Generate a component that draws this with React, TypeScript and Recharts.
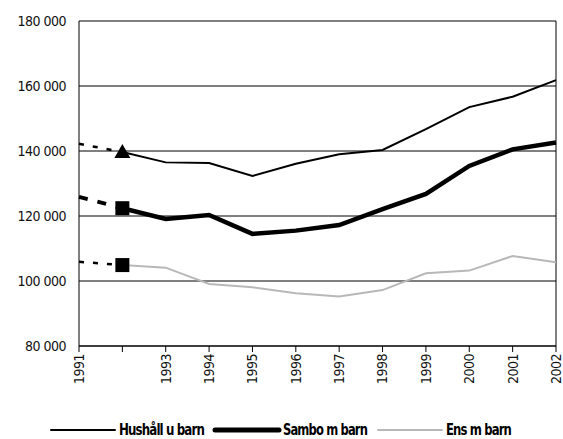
import { LineChart, Line, XAxis, YAxis, CartesianGrid, ReferenceLine, Legend } from "recharts";

const years = ["1991", "1992", "1993", "1994", "1995", "1996", "1997", "1998", "1999", "2000", "2001", "2002"];
const yearLabels = ["1991", "", "1993", "1994", "1995", "1996", "1997", "1998", "1999", "2000", "2001", "2002"];
const hushall = [142200, 139700, 136500, 136300, 132300, 136100, 139000, 140300, 146700, 153500, 156700, 161800];
const sambo = [125900, 122400, 119100, 120300, 114500, 115500, 117200, 122100, 126800, 135400, 140500, 142600];
const ens = [105900, 104900, 104100, 99100, 98100, 96200, 95200, 97200, 102400, 103200, 107700, 105800];
const yTicks = [80000, 100000, 120000, 140000, 160000, 180000];
const markerYear = "1992";

// dotted part runs 1991-1992, solid part from 1992 on
const data = years.map((year, i) => ({
  year,
  hushallPre: i <= 1 ? hushall[i] : null,
  samboPre: i <= 1 ? sambo[i] : null,
  ensPre: i <= 1 ? ens[i] : null,
  hushall: i >= 1 ? hushall[i] : null,
  sambo: i >= 1 ? sambo[i] : null,
  ens: i >= 1 ? ens[i] : null,
}));

const font = "'Liberation Sans Narrow', 'DejaVu Sans Condensed', sans-serif";

const fmt = (v: number) => String(v).replace(/\B(?=(\d{3})+(?!\d))/g, " ");

const XTick = ({ x, y, index }: any) => (
  <g transform={`translate(${x},${y})`}>
    <text transform="rotate(-90)" textAnchor="end" dy="0.35em" fontSize={14} letterSpacing={-0.5} fill="#111" fontFamily={font}>
      {yearLabels[index]}
    </text>
  </g>
);

const Triangle = (props: any) => {
  const { cx, cy, payload } = props;
  if (cy == null || payload.year !== markerYear) return <g key={props.key} />;
  return <path key={props.key} d={`M${cx},${cy - 8} L${cx + 8},${cy + 6} L${cx - 8},${cy + 6} Z`} fill="#000" />;
};

const Square = (props: any) => {
  const { cx, cy, payload } = props;
  if (cy == null || payload.year !== markerYear) return <g key={props.key} />;
  return <rect key={props.key} x={cx - 7} y={cy - 7} width={14} height={14} fill="#000" />;
};

const legendItems = [
  { label: "Hushåll u barn", color: "#000", width: 2, textW: 85 },
  { label: "Sambo m barn", color: "#000", width: 5, textW: 84 },
  { label: "Ens m barn", color: "#b8b8b8", width: 2, textW: 65 },
];

const CustomLegend = () => (
  <div style={{ display: "flex", justifyContent: "center", alignItems: "center", height: 20 }}>
    {legendItems.map((it, i) => (
      <svg key={it.label} width={74 + it.textW} height={20} style={{ marginLeft: i ? 5 : 0, overflow: "visible" }}>
        <line x1={2} y1={10} x2={66} y2={10} stroke={it.color} strokeWidth={it.width} strokeLinecap="round" />
        <text
          x={70}
          y={15}
          fontFamily={font}
          fontWeight="bold"
          fontSize={15}
          letterSpacing={-1}
          fill="#000"
          textLength={it.textW}
          lengthAdjust="spacingAndGlyphs"
        >
          {it.label}
        </text>
      </svg>
    ))}
  </div>
);

const App = () => (
  <div style={{ position: "absolute", left: 0, top: 0 }}>
    <LineChart width={563} height={439} data={data} margin={{ top: 21, right: 7, left: 0, bottom: 0 }}>
      <CartesianGrid vertical={false} stroke="#000" strokeWidth={1} />
      <XAxis
        dataKey="year"
        stroke="#000"
        tickSize={6}
        tick={<XTick />}
        interval={0}
        height={67}
      />
      <YAxis
        domain={[80000, 180000]}
        ticks={yTicks}
        tickFormatter={fmt}
        stroke="#000"
        tickLine={false}
        width={79}
        tick={{ fontSize: 14, fill: "#111", fontFamily: font, letterSpacing: -0.5 }}
        tickMargin={7}
      />
      <ReferenceLine x="2002" stroke="#000" strokeWidth={1} />
      <Legend verticalAlign="bottom" height={26} wrapperStyle={{ top: 420, left: 0, width: 563 }} content={<CustomLegend />} />
      <Line dataKey="hushallPre" stroke="#000" strokeWidth={2.5} strokeDasharray="5 9" dot={false} isAnimationActive={false} legendType="none" />
      <Line dataKey="samboPre" stroke="#000" strokeWidth={4} strokeDasharray="9 10" dot={false} isAnimationActive={false} legendType="none" />
      <Line dataKey="ensPre" stroke="#000" strokeWidth={2.5} strokeDasharray="5 9" dot={false} isAnimationActive={false} legendType="none" />
      <Line dataKey="ens" stroke="#b8b8b8" strokeWidth={2} dot={<Square />} isAnimationActive={false} />
      <Line dataKey="hushall" stroke="#000" strokeWidth={2} dot={<Triangle />} isAnimationActive={false} />
      <Line dataKey="sambo" stroke="#000" strokeWidth={4.5} dot={<Square />} isAnimationActive={false} />
    </LineChart>
  </div>
);

export default App;
